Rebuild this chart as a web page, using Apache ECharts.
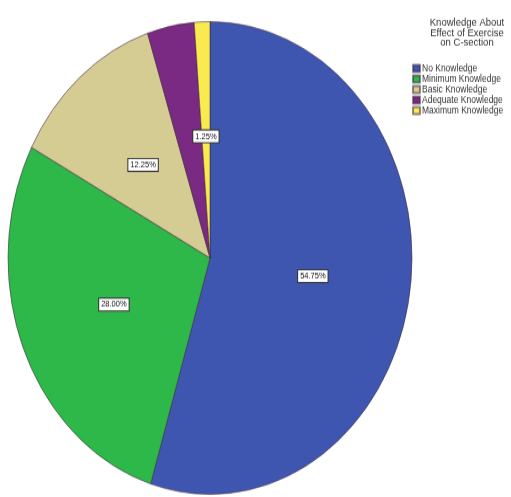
<!DOCTYPE html>
<html>
<head>
<meta charset="utf-8">
<script src="https://cdn.jsdelivr.net/npm/echarts@6/dist/echarts.min.js"></script>
<style>
  html, body { margin: 0; padding: 0; background: #fff; overflow: hidden; }
  #wrap { width: 511px; height: 497px; overflow: hidden; }
  /* the reference pie is an ellipse, so the whole chart is stretched vertically */
  #chart { width: 511px; height: 425px; transform: scaleY(1.17); transform-origin: 0 0; }
</style>
</head>
<body>
<div id="wrap"><div id="chart"></div></div>
<script>
const categories = ['No Knowledge', 'Minimum Knowledge', 'Basic Knowledge', 'Adequate Knowledge', 'Maximum Knowledge']
const percents = [54.75, 28.00, 12.25, 3.75, 1.25]
const colors = ['#3f56b0', '#2eb84a', '#d5cc94', '#7b2a83', '#f9ea50']
const showLabel = [true, true, true, false, true]
const legendTitle = 'Knowledge About\nEffect of Exercise\non C-section'

const chart = echarts.init(document.getElementById('chart'))

const option = {
  animation: false,
  title: {
    text: legendTitle,
    left: 462,
    top: 10,
    textAlign: 'center',
    textStyle: {
      fontFamily: 'Liberation Sans',
      fontSize: 9.5,
      fontWeight: 'normal',
      color: '#333',
      lineHeight: 8.6
    }
  },
  legend: {
    orient: 'vertical',
    left: 412,
    top: 54,
    padding: 0,
    itemWidth: 7,
    itemHeight: 6,
    itemGap: 0,
    icon: 'rect',
    data: categories,
    textStyle: {
      fontFamily: 'Liberation Sans',
      fontSize: 8.5,
      color: '#333',
      padding: [0, 0, 0, -3],
      lineHeight: 8.5
    }
  },
  series: [
    {
      type: 'pie',
      center: [210, 220.5],
      radius: 202,
      startAngle: 90,
      clockwise: true,
      itemStyle: {
        borderColor: 'rgba(60,40,60,0.55)',
        borderWidth: 1
      },
      label: {
        position: 'inside',
        fontFamily: 'Liberation Sans',
        fontSize: 7.5,
        color: '#111',
        backgroundColor: '#fff',
        borderColor: '#333',
        borderWidth: 1,
        padding: [1, 2],
        formatter: (p) => p.value.toFixed(2) + '%'
      },
      labelLine: { show: false },
      emphasis: { disabled: true },
      data: categories.map((name, i) => ({
        name,
        value: percents[i],
        itemStyle: { color: colors[i] },
        label: { show: showLabel[i] }
      }))
    }
  ]
}

chart.setOption(option)
</script>
</body>
</html>
